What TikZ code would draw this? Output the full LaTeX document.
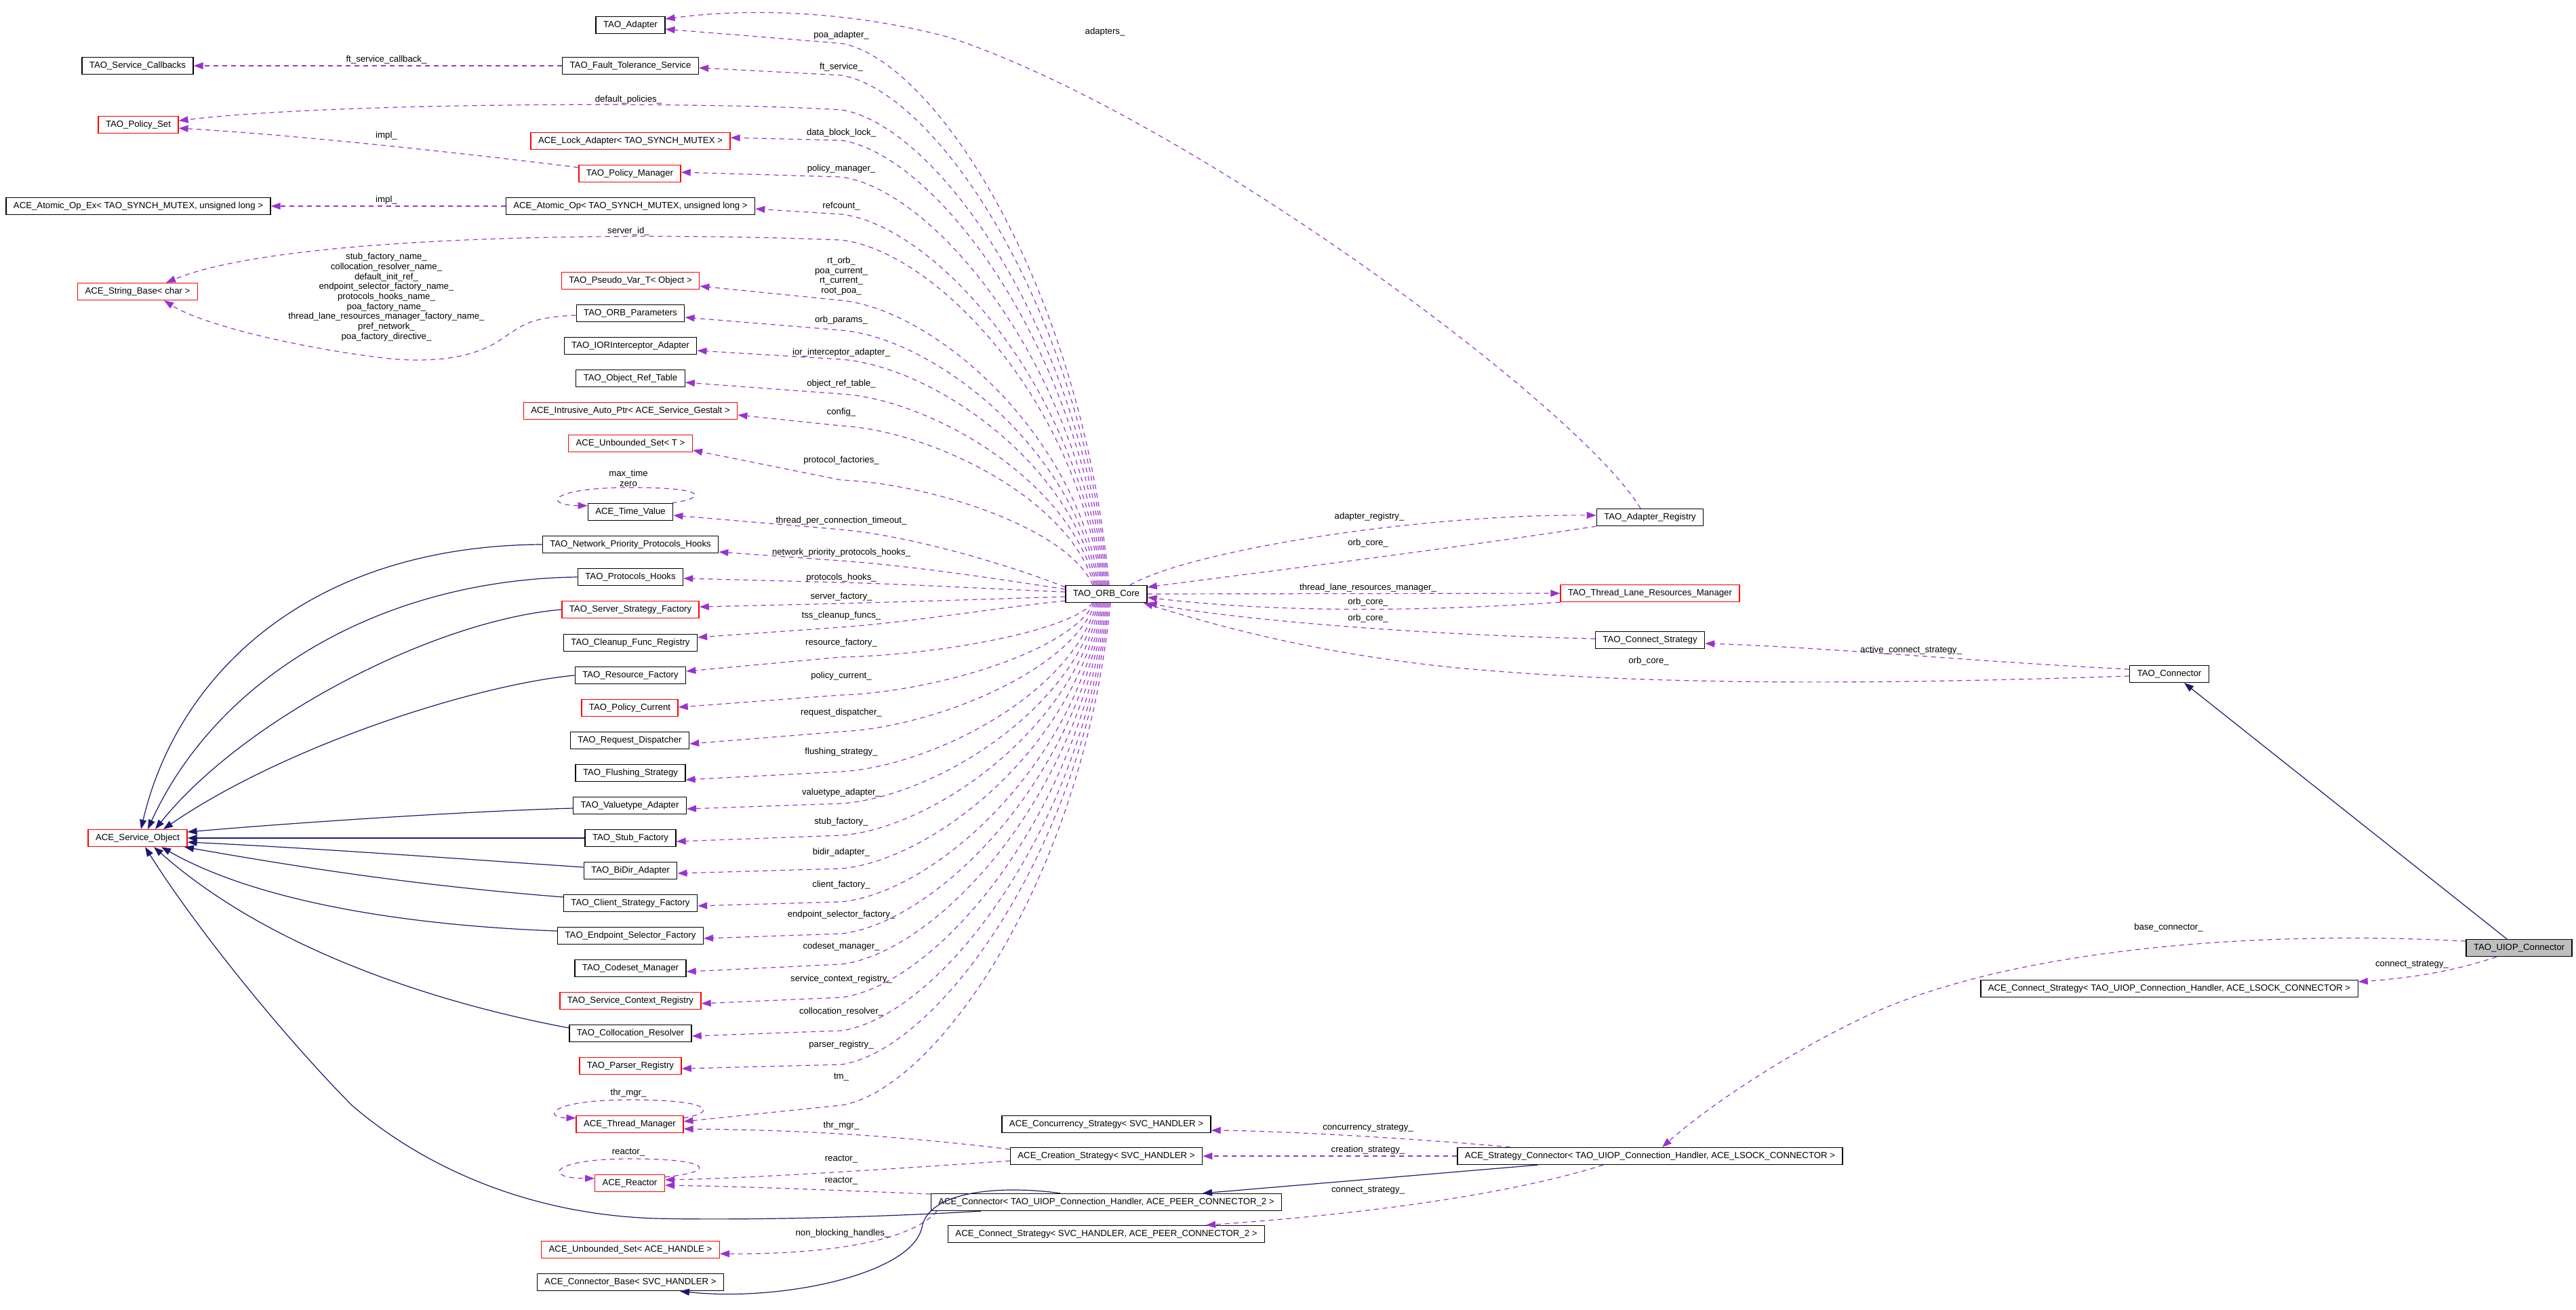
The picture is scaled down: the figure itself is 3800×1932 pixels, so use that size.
\documentclass[tikz,border=0pt]{standalone}
\usepackage{fontspec}
\setmainfont{Liberation Sans}
\usetikzlibrary{arrows.meta,calc}
\definecolor{orch}{HTML}{9A32CD}
\definecolor{mnavy}{HTML}{191970}
\newcommand\dfs{\fontsize{6.6pt}{7.35pt}\selectfont}
\begin{document}
\begin{tikzpicture}[x=0.5pt,y=-0.5pt,
 cls/.style={draw=black,line width=0.65pt,fill=white,font=\dfs,inner xsep=5.5pt,inner ysep=0pt,minimum height=12.5pt},
 rcls/.style={cls,draw=red},
 gcls/.style={cls,fill=black!25},
 lbl/.style={font=\dfs,inner sep=0pt,align=center},
 usedge/.style={draw=orch,line width=0.6pt,dash pattern=on 3.5pt off 3pt,-{Triangle[length=7pt,width=5pt]}},
 inhedge/.style={draw=mnavy,line width=0.6pt,-{Triangle[length=7pt,width=5pt]}}]
\path[use as bounding box,fill=white] (0,0) rectangle (3800,1932);

% ---------- nodes ----------
\node[cls] (adapter) at (930,37) {TAO\_Adapter};
\node[cls] (svccb) at (203,97) {TAO\_Service\_Callbacks};
\node[cls] (ftsvc) at (930,97) {TAO\_Fault\_Tolerance\_Service};
\node[rcls] (pset) at (204,184) {TAO\_Policy\_Set};
\node[rcls] (lockad) at (930,208) {ACE\_Lock\_Adapter< TAO\_SYNCH\_MUTEX >};
\node[rcls] (polmgr) at (929,256) {TAO\_Policy\_Manager};
\node[cls] (atomex) at (204,304) {ACE\_Atomic\_Op\_Ex< TAO\_SYNCH\_MUTEX, unsigned long >};
\node[cls] (atomop) at (930,304) {ACE\_Atomic\_Op< TAO\_SYNCH\_MUTEX, unsigned long >};
\node[rcls] (strbase) at (203,430) {ACE\_String\_Base< char >};
\node[rcls] (pseudo) at (930,414) {TAO\_Pseudo\_Var\_T< Object >};
\node[cls] (orbparams) at (930,462) {TAO\_ORB\_Parameters};
\node[cls] (iorint) at (930,510) {TAO\_IORInterceptor\_Adapter};
\node[cls] (objref) at (930,558) {TAO\_Object\_Ref\_Table};
\node[rcls] (intrusive) at (930,606) {ACE\_Intrusive\_Auto\_Ptr< ACE\_Service\_Gestalt >};
\node[rcls] (uset) at (930,654) {ACE\_Unbounded\_Set< T >};
\node[cls] (timeval) at (930,755) {ACE\_Time\_Value};
\node[cls] (npph) at (930,803) {TAO\_Network\_Priority\_Protocols\_Hooks};
\node[cls] (ph) at (930,851) {TAO\_Protocols\_Hooks};
\node[rcls] (ssf) at (930,899) {TAO\_Server\_Strategy\_Factory};
\node[cls] (cfr) at (930,948) {TAO\_Cleanup\_Func\_Registry};
\node[cls] (rf) at (930,996) {TAO\_Resource\_Factory};
\node[rcls] (pc) at (929,1044) {TAO\_Policy\_Current};
\node[cls] (rd) at (929,1092) {TAO\_Request\_Dispatcher};
\node[cls] (fs) at (930,1140) {TAO\_Flushing\_Strategy};
\node[cls] (va) at (929,1188) {TAO\_Valuetype\_Adapter};
\node[rcls] (svcobj) at (203,1236) {ACE\_Service\_Object};
\node[cls] (sf) at (930,1236) {TAO\_Stub\_Factory};
\node[cls] (bidir) at (930,1284) {TAO\_BiDir\_Adapter};
\node[cls] (csf) at (930,1332) {TAO\_Client\_Strategy\_Factory};
\node[cls] (esf) at (930,1380) {TAO\_Endpoint\_Selector\_Factory};
\node[cls] (cm) at (930,1428) {TAO\_Codeset\_Manager};
\node[rcls] (scr) at (930,1476) {TAO\_Service\_Context\_Registry};
\node[cls] (cr) at (930,1524) {TAO\_Collocation\_Resolver};
\node[rcls] (pr) at (930,1572) {TAO\_Parser\_Registry};
\node[rcls] (tm) at (929,1658) {ACE\_Thread\_Manager};
\node[rcls] (reactor) at (929,1745) {ACE\_Reactor};
\node[rcls] (usethandle) at (930,1843) {ACE\_Unbounded\_Set< ACE\_HANDLE >};
\node[cls] (connbase) at (930,1891) {ACE\_Connector\_Base< SVC\_HANDLER >};

\node[cls] (core) at (1632,876) {TAO\_ORB\_Core};
\node[cls] (concur) at (1632,1658) {ACE\_Concurrency\_Strategy< SVC\_HANDLER >};
\node[cls] (creation) at (1632,1705) {ACE\_Creation\_Strategy< SVC\_HANDLER >};
\node[cls] (aceconn) at (1632,1773) {ACE\_Connector< TAO\_UIOP\_Connection\_Handler, ACE\_PEER\_CONNECTOR\_2 >};
\node[cls] (aceconnstrat) at (1632,1820) {ACE\_Connect\_Strategy< SVC\_HANDLER, ACE\_PEER\_CONNECTOR\_2 >};

\node[cls] (adreg) at (2434,763) {TAO\_Adapter\_Registry};
\node[rcls] (tlrm) at (2434,875) {TAO\_Thread\_Lane\_Resources\_Manager};
\node[cls] (tconnstrat) at (2434,944) {TAO\_Connect\_Strategy};
\node[cls] (stratconn) at (2434,1705) {ACE\_Strategy\_Connector< TAO\_UIOP\_Connection\_Handler, ACE\_LSOCK\_CONNECTOR >};

\node[cls] (tconn) at (3200,994) {TAO\_Connector};
\node[cls] (uiopcs) at (3200,1458) {ACE\_Connect\_Strategy< TAO\_UIOP\_Connection\_Handler, ACE\_LSOCK\_CONNECTOR >};
\node[gcls] (uiop) at (3716,1398) {TAO\_UIOP\_Connector};

% ---------- edges from TAO_ORB_Core (above) ----------
\draw[usedge] ($(core.north)+(4,0)$) .. controls (1596,424) and (1379,88) .. (1241,64) -- ($(adapter.east)+(0,6)$);
\draw[usedge] ($(core.north)+(2,0)$) .. controls (1595,449) and (1379,134) .. (1241,111) -- ($(ftsvc.east)+(0,3)$);
\draw[usedge] ($(core.north)+(0,0)$) .. controls (1593,477) and (1378,183) .. (1241,162) .. controls (1050,150) and (500,150) .. ($(pset.east)+(0,-6)$);
\draw[usedge] ($(core.north)+(-2,0)$) .. controls (1591,502) and (1377,227) .. (1241,207) -- ($(lockad.east)+(0,-5)$);
\draw[usedge] ($(core.north)+(-4,0)$) .. controls (1589,532) and (1376,279) .. (1241,261) -- ($(polmgr.east)+(0,-2)$);
\draw[usedge] ($(core.north)+(-6,0)$) .. controls (1588,562) and (1376,332) .. (1241,316) -- ($(atomop.east)+(0,4)$);
\draw[usedge] ($(core.north)+(-8,0)$) .. controls (1586,583) and (1375,369) .. (1241,354) .. controls (950,342) and (420,345) .. ($(strbase.north)+(42,0)$);
\draw[usedge] ($(core.north)+(-10,0)$) .. controls (1584,632) and (1374,456) .. (1241,443) -- ($(pseudo.east)+(0,8)$);
\draw[usedge] ($(core.north)+(-12,0)$) .. controls (1582,656) and (1374,498) .. (1241,487) -- ($(orbparams.east)+(0,6)$);
\draw[usedge] ($(core.north)+(-14,0)$) .. controls (1580,680) and (1373,540) .. (1241,530) -- ($(iorint.east)+(0,7)$);
\draw[usedge] ($(core.north)+(-16,0)$) .. controls (1579,708) and (1372,589) .. (1241,581) -- ($(objref.east)+(0,6)$);
\draw[usedge] ($(core.north)+(-18,0)$) .. controls (1577,734) and (1372,635) .. (1241,628) -- ($(intrusive.east)+(0,6)$);
\draw[usedge] ($(core.north)+(-20,0)$) .. controls (1575,778) and (1371,713) .. (1241,708) -- ($(uset.east)+(0,10)$);
\draw[usedge] ($(core.north west)+(0,3)$) .. controls (1480,830) and (1340,790) .. (1241,781) -- ($(timeval.east)+(0,5)$);
\draw[usedge] ($(core.west)+(0,-7)$) .. controls (1480,855) and (1350,835) .. (1241,827) -- ($(npph.east)+(0,11)$);
\draw[usedge] ($(core.west)+(0,-3)$) .. controls (1450,868) and (1350,862) .. (1241,859) -- ($(ph.east)+(0,2)$);
% ---------- edges from TAO_ORB_Core (below) ----------
\draw[usedge] ($(core.west)+(0,4)$) .. controls (1450,884) and (1350,887) .. (1241,890) -- ($(ssf.east)+(0,-4)$);
\draw[usedge] ($(core.south west)+(0,-3)$) .. controls (1480,895) and (1340,918) .. (1241,925) -- ($(cfr.east)+(0,-8)$);
\draw[usedge] ($(core.south)+(-20,0)$) .. controls (1575,933) and (1371,967) .. (1241,969) -- ($(rf.east)+(0,-6)$);
\draw[usedge] ($(core.south)+(-18,0)$) .. controls (1577,963) and (1372,1021) .. (1241,1025) -- ($(pc.east)+(0,-1)$);
\draw[usedge] ($(core.south)+(-16,0)$) .. controls (1578,993) and (1372,1073) .. (1241,1079) -- ($(rd.east)+(0,5)$);
\draw[usedge] ($(core.south)+(-14,0)$) .. controls (1580,1026) and (1373,1130) .. (1241,1138) -- ($(fs.east)+(0,10)$);
\draw[usedge] ($(core.south)+(-12,0)$) .. controls (1582,1051) and (1374,1176) .. (1241,1185) -- ($(va.east)+(0,5)$);
\draw[usedge] ($(core.south)+(-10,0)$) .. controls (1584,1077) and (1374,1222) .. (1241,1232) -- ($(sf.east)+(0,5)$);
\draw[usedge] ($(core.south)+(-8,0)$) .. controls (1586,1104) and (1375,1269) .. (1241,1281) -- ($(bidir.east)+(0,4)$);
\draw[usedge] ($(core.south)+(-6,0)$) .. controls (1588,1131) and (1376,1317) .. (1241,1330) -- ($(csf.east)+(0,4)$);
\draw[usedge] ($(core.south)+(-4,0)$) .. controls (1589,1157) and (1376,1362) .. (1241,1377) -- ($(esf.east)+(0,4)$);
\draw[usedge] ($(core.south)+(-2,0)$) .. controls (1591,1182) and (1377,1406) .. (1241,1422) -- ($(cm.east)+(0,5)$);
\draw[usedge] ($(core.south)+(0,0)$) .. controls (1593,1209) and (1378,1454) .. (1241,1471) -- ($(scr.east)+(0,4)$);
\draw[usedge] ($(core.south)+(2,0)$) .. controls (1595,1236) and (1379,1501) .. (1241,1520) -- ($(cr.east)+(0,4)$);
\draw[usedge] ($(core.south)+(4,0)$) .. controls (1596,1263) and (1379,1550) .. (1241,1570) -- ($(pr.east)+(0,4)$);
\draw[usedge] ($(core.south)+(6,0)$) .. controls (1598,1296) and (1380,1608) .. (1241,1630) -- ($(tm.east)+(0,-4)$);

% ---------- right side of TAO_ORB_Core ----------
\draw[usedge] ($(core.north east)+(-26,0)$) .. controls (1760,810) and (2100,758) .. ($(adreg.west)+(0,-3)$);
\draw[usedge] (adreg.south west) .. controls (2100,815) and (1850,845) .. ($(core.east)+(0,-10)$);
\draw[usedge] (core.east) -- (tlrm.west);
\draw[usedge] (tlrm.south west) .. controls (2050,905) and (1850,900) .. ($(core.east)+(0,5)$);
\draw[usedge] ($(tconnstrat.west)+(0,-2)$) .. controls (2050,935) and (1800,910) .. (core.south east);
\draw[usedge] ($(tconn.west)+(0,3)$) .. controls (2700,1012) and (2400,1008) .. (2150,985) .. controls (1950,965) and (1800,925) .. ($(core.south east)+(-6,0)$);
\draw[usedge] ($(tconn.west)+(0,-7)$) .. controls (2900,975) and (2700,955) .. ($(tconnstrat.east)+(0,5)$);
\draw[usedge] ($(adreg.north)+(-14,0)$) .. controls (2330,600) and (1750,170) .. (1400,55) .. controls (1250,15) and (1100,12) .. ($(adapter.east)+(0,-9)$);

% ---------- connector part ----------
\draw[inhedge] ($(uiop.north)+(-18,0)$) -- ($(tconn.south)+(22,0)$);
\draw[usedge] ($(uiop.west)+(0,-10)$) .. controls (3300,1370) and (2950,1405) .. (2750,1500) .. controls (2620,1562) and (2510,1640) .. ($(stratconn.north)+(18,0)$);
\draw[usedge] ($(uiop.south)+(-33,0)$) .. controls (3620,1432) and (3560,1442) .. ($(uiopcs.east)+(0,-10)$);
\draw[usedge] ($(stratconn.north)+(-206,0)$) .. controls (2100,1680) and (1900,1668) .. ($(concur.east)+(0,9)$);
\draw[usedge] (stratconn.west) -- (creation.east);
\draw[inhedge] ($(stratconn.south)+(-166,0)$) -- ($(aceconn.north)+(142,0)$);
\draw[usedge] ($(stratconn.south)+(-69,0)$) .. controls (2200,1770) and (1950,1795) .. ($(aceconnstrat.north)+(147,0)$);

\draw[usedge] ($(creation.west)+(0,-10)$) .. controls (1300,1672) and (1150,1666) .. ($(tm.east)+(0,7)$);
\draw[usedge] ($(creation.west)+(0,7)$) .. controls (1300,1725) and (1100,1738) .. ($(reactor.east)+(0,-5)$);
\draw[usedge] ($(aceconn.west)+(0,-12)$) .. controls (1200,1754) and (1100,1750) .. ($(reactor.east)+(0,3)$);
\draw[usedge] ($(aceconn.south)+(-250,0)$) .. controls (1340,1835) and (1200,1850) .. ($(usethandle.east)+(0,6)$);
\draw[inhedge] ($(aceconn.north)+(-68,0)$) .. controls (1480,1748) and (1370,1755) .. (1360,1810) .. controls (1345,1880) and (1150,1920) .. ($(connbase.south)+(73,0)$);
\draw[inhedge] ($(aceconn.south)+(-185,0)$) .. controls (1300,1795) and (1100,1800) .. (968,1797) .. controls (750,1790) and (600,1700) .. (519,1630) .. controls (420,1530) and (290,1370) .. ($(svcobj.south)+(11,0)$);

% ---------- inheritance into ACE_Service_Object ----------
\draw[inhedge] (npph.west) .. controls (450,805) and (260,1000) .. ($(svcobj.north)+(5,0)$);
\draw[inhedge] (ph.west) .. controls (560,855) and (320,1000) .. ($(svcobj.north)+(15,0)$);
\draw[inhedge] (ssf.west) .. controls (640,915) and (360,1060) .. ($(svcobj.north)+(26,0)$);
\draw[inhedge] (rf.west) .. controls (700,1010) and (420,1100) .. ($(svcobj.north)+(38,0)$);
\draw[inhedge] ($(va.west)+(0,4)$) .. controls (700,1196) and (450,1212) .. ($(svcobj.east)+(0,-9)$);
\draw[inhedge] (sf.west) -- (svcobj.east);
\draw[inhedge] ($(bidir.west)+(0,-5)$) .. controls (700,1268) and (450,1250) .. ($(svcobj.east)+(0,6)$);
\draw[inhedge] ($(csf.west)+(0,-9)$) .. controls (600,1305) and (420,1275) .. ($(svcobj.south)+(69,0)$);
\draw[inhedge] ($(esf.west)+(0,-7)$) .. controls (600,1365) and (380,1330) .. ($(svcobj.south)+(35,0)$);
\draw[inhedge] ($(cr.west)+(0,-8)$) .. controls (700,1490) and (420,1420) .. ($(svcobj.south)+(24,0)$);

% ---------- left column ----------
\draw[usedge] (ftsvc.west) -- (svccb.east);
\draw[usedge] ($(polmgr.west)+(0,-9)$) .. controls (700,228) and (450,200) .. ($(pset.east)+(0,5)$);
\draw[usedge] (atomop.west) -- (atomex.east);
\draw[usedge] ($(orbparams.west)+(0,3)$) .. controls (780,468) and (770,480) .. (740,500) .. controls (700,528) and (640,535) .. (575,529) .. controls (450,515) and (300,480) .. ($(strbase.south)+(39,0)$);

% ---------- self loops ----------
\draw[usedge] ($(timeval.north east)+(-2,0)$) .. controls (1040,735) and (1050,719) .. (930,719) .. controls (810,719) and (800,745) .. ($(timeval.north west)+(0,4)$);
\draw[usedge] ($(tm.north east)+(0,4)$) .. controls (1060,1640) and (1050,1622) .. (930,1622) .. controls (810,1622) and (800,1648) .. ($(tm.north west)+(0,4)$);
\draw[usedge] ($(reactor.north east)+(0,4)$) .. controls (1060,1728) and (1050,1709) .. (930,1709) .. controls (810,1709) and (800,1738) .. ($(reactor.north west)+(0,6)$);

% ---------- labels ----------
\node[lbl] (l1) at (570,88) {ft\_service\_callback\_};
\node[lbl] (l2) at (927,147) {default\_policies\_};
\node[lbl] (l3) at (570,200) {impl\_};
\node[lbl] (l4) at (570,295) {impl\_};
\node[lbl] (l5) at (927,341) {server\_id\_};
\node[lbl] (l6) at (570,438) {stub\_factory\_name\_\\collocation\_resolver\_name\_\\default\_init\_ref\_\\endpoint\_selector\_factory\_name\_\\protocols\_hooks\_name\_\\poa\_factory\_name\_\\thread\_lane\_resources\_manager\_factory\_name\_\\pref\_network\_\\poa\_factory\_directive\_};
\node[lbl] (l7) at (1241,52) {poa\_adapter\_};
\node[lbl] (l8) at (1630,47) {adapters\_};
\node[lbl] (l9) at (1241,99) {ft\_service\_};
\node[lbl] (l10) at (1241,196) {data\_block\_lock\_};
\node[lbl] (l11) at (1241,249) {policy\_manager\_};
\node[lbl] (l12) at (1241,304) {refcount\_};
\node[lbl] (l13) at (1241,407) {rt\_orb\_\\poa\_current\_\\rt\_current\_\\root\_poa\_};
\node[lbl] (l14) at (1241,472) {orb\_params\_};
\node[lbl] (l15) at (1241,520) {ior\_interceptor\_adapter\_};
\node[lbl] (l16) at (1241,566) {object\_ref\_table\_};
\node[lbl] (l17) at (1241,608) {config\_};
\node[lbl] (l18) at (1241,679) {protocol\_factories\_};
\node[lbl] (l19) at (927,705) {max\_time\\zero};
\node[lbl] (l20) at (1241,768) {thread\_per\_connection\_timeout\_};
\node[lbl] (l21) at (1241,815) {network\_priority\_protocols\_hooks\_};
\node[lbl] (l22) at (1241,852) {protocols\_hooks\_};
\node[lbl] (l23) at (1241,880) {server\_factory\_};
\node[lbl] (l24) at (1241,908) {tss\_cleanup\_funcs\_};
\node[lbl] (l25) at (1241,948) {resource\_factory\_};
\node[lbl] (l26) at (1241,997) {policy\_current\_};
\node[lbl] (l27) at (1241,1051) {request\_dispatcher\_};
\node[lbl] (l28) at (1241,1109) {flushing\_strategy\_};
\node[lbl] (l29) at (1241,1169) {valuetype\_adapter\_};
\node[lbl] (l30) at (1241,1212) {stub\_factory\_};
\node[lbl] (l31) at (1241,1257) {bidir\_adapter\_};
\node[lbl] (l32) at (1241,1305) {client\_factory\_};
\node[lbl] (l33) at (1241,1349) {endpoint\_selector\_factory\_};
\node[lbl] (l34) at (1241,1396) {codeset\_manager\_};
\node[lbl] (l35) at (1241,1444) {service\_context\_registry\_};
\node[lbl] (l36) at (1241,1492) {collocation\_resolver\_};
\node[lbl] (l37) at (1241,1541) {parser\_registry\_};
\node[lbl] (l38) at (1241,1589) {tm\_};
\node[lbl] (l39) at (927,1612) {thr\_mgr\_};
\node[lbl] (l40) at (1241,1660) {thr\_mgr\_};
\node[lbl] (l41) at (927,1700) {reactor\_};
\node[lbl] (l42) at (1241,1710) {reactor\_};
\node[lbl] (l43) at (1241,1742) {reactor\_};
\node[lbl] (l44) at (1243,1819) {non\_blocking\_handles\_};
\node[lbl] (l45) at (2020,762) {adapter\_registry\_};
\node[lbl] (l46) at (2018,801) {orb\_core\_};
\node[lbl] (l47) at (2018,867) {thread\_lane\_resources\_manager\_};
\node[lbl] (l48) at (2018,888) {orb\_core\_};
\node[lbl] (l49) at (2018,912) {orb\_core\_};
\node[lbl] (l50) at (2432,975) {orb\_core\_};
\node[lbl] (l51) at (2819,959) {active\_connect\_strategy\_};
\node[lbl] (l52) at (3199,1368) {base\_connector\_};
\node[lbl] (l53) at (3558,1423) {connect\_strategy\_};
\node[lbl] (l54) at (2018,1664) {concurrency\_strategy\_};
\node[lbl] (l55) at (2018,1696) {creation\_strategy\_};
\node[lbl] (l56) at (2018,1756) {connect\_strategy\_};
\end{tikzpicture}
\end{document}
